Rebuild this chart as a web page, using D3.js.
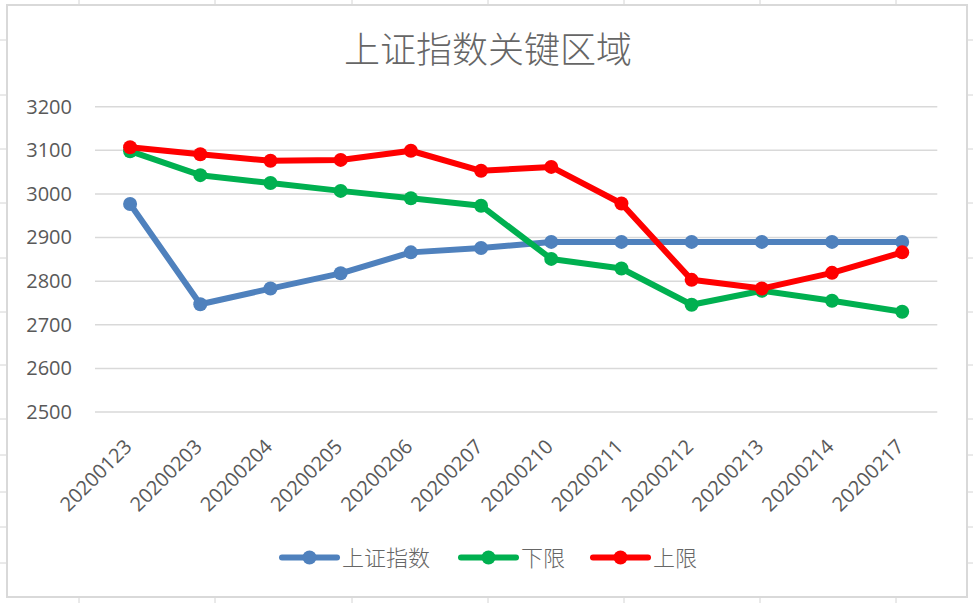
<!DOCTYPE html>
<html>
<head>
<meta charset="utf-8">
<script src="https://cdn.jsdelivr.net/npm/d3@7.9.0/dist/d3.min.js"></script>
<style>
  html, body { margin: 0; padding: 0; background: #fff; }
  svg { display: block; }
  text { font-family: "Open Sans", "Noto Sans CJK SC", sans-serif; }
</style>
</head>
<body>
<svg id="chart" width="973" height="603"></svg>
<script>
// data
const dates = ["20200123", "20200203", "20200204", "20200205", "20200206", "20200207",
               "20200210", "20200211", "20200212", "20200213", "20200214", "20200217"];
const indexValues = [2977, 2747, 2783, 2818, 2866, 2876, 2890, 2890, 2890, 2890, 2890, 2890];
const lowerValues = [3098, 3043, 3025, 3007, 2990, 2973, 2851, 2829, 2746, 2778, 2755, 2730];
const upperValues = [3107, 3091, 3076, 3078, 3099, 3053, 3062, 2978, 2803, 2783, 2819, 2866];
const yTicks = [2500, 2600, 2700, 2800, 2900, 3000, 3100, 3200];
const seriesNames = ["上证指数", "下限", "上限"];
const seriesColors = ["#4f81bd", "#00b050", "#ff0000"];

const series = [indexValues, lowerValues, upperValues].map((values, i) => ({
    name: seriesNames[i],
    color: seriesColors[i],
    values: values
}));

const svg = d3.select("#chart");
const textColor = "#595959";
const gridColor = "#d9d9d9";

// spreadsheet cell lines peeking out around the chart object
const outer = svg.append("g").attr("stroke", "#d4d4d4").attr("stroke-width", 1);
[79, 215, 352, 488, 624, 760, 896].forEach(x => {
    outer.append("line").attr("x1", x).attr("x2", x).attr("y1", 0).attr("y2", 5);
    outer.append("line").attr("x1", x).attr("x2", x).attr("y1", 597).attr("y2", 603);
});
[40, 95, 149, 203, 258, 312, 365, 419, 455, 492, 527, 563].forEach(y => {
    outer.append("line").attr("x1", 0).attr("x2", 7).attr("y1", y).attr("y2", y);
    outer.append("line").attr("x1", 967).attr("x2", 973).attr("y1", y).attr("y2", y);
});

// chart frame
svg.append("rect")
    .attr("x", 7).attr("y", 5)
    .attr("width", 960).attr("height", 592)
    .attr("fill", "#fff")
    .attr("stroke", gridColor)
    .attr("stroke-width", 2);

// title
svg.append("text")
    .attr("x", 488).attr("y", 63)
    .attr("text-anchor", "middle")
    .attr("font-family", "'Noto Sans CJK SC', sans-serif")
    .attr("font-size", 36)
    .attr("font-weight", 300)
    .attr("fill", "#666")
    .text("上证指数关键区域");

const x = d3.scaleBand().domain(dates).range([95, 937.3]);
const y = d3.scaleLinear().domain([2500, 3200]).range([412, 106.7]);

// gridlines
svg.append("g")
    .selectAll("line")
    .data(yTicks)
    .join("line")
    .attr("x1", 95).attr("x2", 937.3)
    .attr("y1", d => y(d)).attr("y2", d => y(d))
    .attr("stroke", gridColor)
    .attr("stroke-width", 1.5);

// y axis labels
const yAxis = svg.append("g")
    .attr("transform", "translate(72,0)")
    .call(d3.axisLeft(y).tickValues(yTicks).tickFormat(d3.format("d")).tickSize(0).tickPadding(0));
yAxis.select(".domain").remove();
yAxis.selectAll("text")
    .attr("font-family", "'Open Sans', sans-serif")
    .attr("font-size", 20)
    .attr("fill", textColor);

// x axis labels, rotated
const xAxis = svg.append("g")
    .attr("transform", "translate(0,412)")
    .call(d3.axisBottom(x).tickSize(0).tickPadding(0));
xAxis.select(".domain").remove();
xAxis.selectAll("text")
    .attr("font-family", "'Open Sans', sans-serif")
    .attr("font-size", 20)
    .attr("fill", textColor)
    .attr("text-anchor", "end")
    .attr("dy", 0)
    .attr("y", 0)
    .attr("transform", "translate(3,36) rotate(-45)");

// lines + markers
const line = d3.line()
    .x((d, i) => x(dates[i]) + x.bandwidth() / 2)
    .y(d => y(d));

series.forEach(s => {
    const g = svg.append("g");
    g.append("path")
        .datum(s.values)
        .attr("d", line)
        .attr("fill", "none")
        .attr("stroke", s.color)
        .attr("stroke-width", 6)
        .attr("stroke-linejoin", "round")
        .attr("stroke-linecap", "round");
    g.selectAll("circle")
        .data(s.values)
        .join("circle")
        .attr("cx", (d, i) => x(dates[i]) + x.bandwidth() / 2)
        .attr("cy", d => y(d))
        .attr("r", 7)
        .attr("fill", s.color);
});

// legend
const legendX = [282, 461, 593];
const legend = svg.append("g");
series.forEach((s, i) => {
    const item = legend.append("g").attr("transform", `translate(${legendX[i]},557.5)`);
    item.append("line")
        .attr("x1", 0).attr("x2", 55)
        .attr("stroke", s.color)
        .attr("stroke-width", 6)
        .attr("stroke-linecap", "round");
    item.append("circle").attr("cx", 27.5).attr("r", 7).attr("fill", s.color);
    item.append("text")
        .attr("x", 60).attr("y", 8)
        .attr("font-family", "'Noto Sans CJK SC', sans-serif")
        .attr("font-size", 22)
        .attr("font-weight", 300)
        .attr("fill", "#666")
        .text(s.name);
});
</script>
</body>
</html>
